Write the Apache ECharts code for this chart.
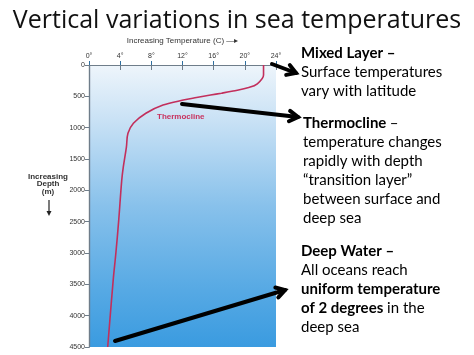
<!DOCTYPE html>
<html><head><meta charset="utf-8">
<script src="https://cdn.jsdelivr.net/npm/echarts@6/dist/echarts.min.js"></script>
<style>html,body{margin:0;padding:0;background:#fff}#c{width:474px;height:355px}</style>
</head><body><div id="c"></div>
<script>
// Data
const tempTicks = [0, 4, 8, 12, 16, 20, 24];          // °C
const depthTicks = [0, 500, 1000, 1500, 2000, 2500, 3000, 3500, 4000, 4500]; // m
const profileDepth = [0, 160, 300, 360, 415, 450, 480, 520, 560, 640, 770, 930, 1090, 1310, 1630, 1840, 2500, 3000, 3440, 4500];
const profileTemp  = [22.4, 22.4, 21.6, 20.5, 18.5, 17.0, 15.6, 13.8, 12.1, 9.5, 7.3, 5.7, 5.0, 4.8, 4.4, 4.2, 3.8, 3.45, 3.1, 2.4];

const chart = echarts.init(document.getElementById('c'), null, {renderer: 'canvas'});
const axisColor = '#6f7d8a';
const tickFont = {fontFamily: 'Liberation Sans', fontSize: 7, color: '#333'};
const bodyFont = 'Lato';

function arrowGraphic(x1, y1, x2, y2) {
  const a = Math.atan2(y2 - y1, x2 - x1), L = 10, w = 0.55;
  const p1 = [x2 - L * Math.cos(a - w), y2 - L * Math.sin(a - w)];
  const p2 = [x2 - L * Math.cos(a + w), y2 - L * Math.sin(a + w)];
  return [
    {type: 'line', shape: {x1, y1, x2, y2}, style: {stroke: '#000', lineWidth: 4, lineCap: 'round'}, z: 100},
    {type: 'polyline', shape: {points: [p1, [x2, y2], p2]}, style: {stroke: '#000', lineWidth: 4, fill: null, lineJoin: 'miter', lineCap: 'round'}, z: 100}
  ];
}

const rich = {
  b: {fontFamily: bodyFont, fontSize: 15, fontWeight: 'bold', color: '#111', lineHeight: 19},
  n: {fontFamily: bodyFont, fontSize: 15, color: '#111', lineHeight: 19}
};

chart.setOption({
  animation: false,
  backgroundColor: '#fff',
  title: {
    text: 'Vertical variations in sea temperatures',
    left: 'center', top: 3,
    textStyle: {fontFamily: 'Open Sans', fontWeight: 'normal', fontSize: 25, color: '#111'}
  },
  grid: {
    left: 89, top: 65, width: 187, height: 282, show: true, borderWidth: 0,
    backgroundColor: {type: 'linear', x: 0, y: 0, x2: 0, y2: 1,
      colorStops: [{offset: 0, color: '#eef5fb'}, {offset: 0.2, color: '#c8e1f5'}, {offset: 0.5, color: '#88c1eb'}, {offset: 0.8, color: '#56a9e4'}, {offset: 1, color: '#3a9be0'}]}
  },
  xAxis: [
    {type: 'value', position: 'top', min: 0, max: 24, interval: 4,
     name: 'Increasing Temperature (C) \u2014\u25B8', nameLocation: 'middle', nameGap: 20,
     nameTextStyle: {fontFamily: 'Liberation Sans', fontSize: 8, color: '#333'},
     axisLine: {show: true, lineStyle: {color: axisColor, width: 1.2}},
     axisTick: {show: true, inside: true, length: 5, lineStyle: {color: axisColor}},
     axisLabel: Object.assign({formatter: v => v + '°', margin: 5}, tickFont),
     splitLine: {show: false}},
    {type: 'value', position: 'bottom', min: 0, max: 24, interval: 4,
     axisLine: {show: true, lineStyle: {color: axisColor, width: 1.2}},
     axisTick: {show: true, inside: true, length: 4, lineStyle: {color: '#2f6f9f'}},
     axisLabel: {show: false}, splitLine: {show: false}}
  ],
  yAxis: [
    {type: 'value', inverse: true, min: 0, max: 4500, interval: 500, position: 'left',
     axisLine: {show: true, lineStyle: {color: axisColor, width: 1.2}},
     axisTick: {show: true, inside: false, length: 4, lineStyle: {color: axisColor}},
     axisLabel: Object.assign({margin: 4, formatter: v => String(v)}, tickFont),
     splitLine: {show: false}},
    {type: 'value', inverse: true, min: 0, max: 4500, interval: 500, position: 'right',
     axisLine: {show: true, lineStyle: {color: axisColor, width: 1.2}},
     axisTick: {show: true, inside: true, length: 4, lineStyle: {color: axisColor}},
     axisLabel: {show: false}, splitLine: {show: false}}
  ],
  series: [{
    type: 'line', xAxisIndex: 0, yAxisIndex: 0, smooth: 0.35, showSymbol: false,
    data: profileDepth.map((d, i) => [profileTemp[i], d]),
    lineStyle: {color: '#c22f5c', width: 1.6}
  }],
  graphic: [
    {type: 'text', left: 157, top: 113, style: {text: 'Thermocline', font: 'bold 8px Liberation Sans', fill: '#c8325e'}},
    {type: 'text', x: 48, y: 173, style: {text: 'Increasing\nDepth\n(m)', font: 'bold 8px Liberation Sans', fill: '#333', align: 'center', verticalAlign: 'top', lineHeight: 7.5}},
    {type: 'line', shape: {x1: 49, y1: 200, x2: 49, y2: 213}, style: {stroke: '#222', lineWidth: 1.2}},
    {type: 'polygon', shape: {points: [[46.5, 211], [51.5, 211], [49, 216]]}, style: {fill: '#222'}},
    ...arrowGraphic(272, 64, 296, 73),
    ...arrowGraphic(182, 104, 298, 117),
    ...arrowGraphic(115, 341, 285, 290),
    {type: 'text', left: 301, top: 46, style: {rich, text: '{b|Mixed Layer \u2013}\n{n|Surface temperatures}\n{n|vary with latitude}'}},
    {type: 'text', left: 303, top: 116, style: {rich, text: '{b|Thermocline} {n|\u2013}\n{n|temperature changes}\n{n|rapidly with depth}\n{n|\u201Ctransition layer\u201D}\n{n|between surface and}\n{n|deep sea}'}},
    {type: 'text', left: 301, top: 244, style: {rich, text: '{b|Deep Water \u2013}\n{n|All oceans reach}\n{b|uniform temperature}\n{b|of 2 degrees}{n| in the}\n{n|deep sea}'}}
  ]
});
</script></body></html>
